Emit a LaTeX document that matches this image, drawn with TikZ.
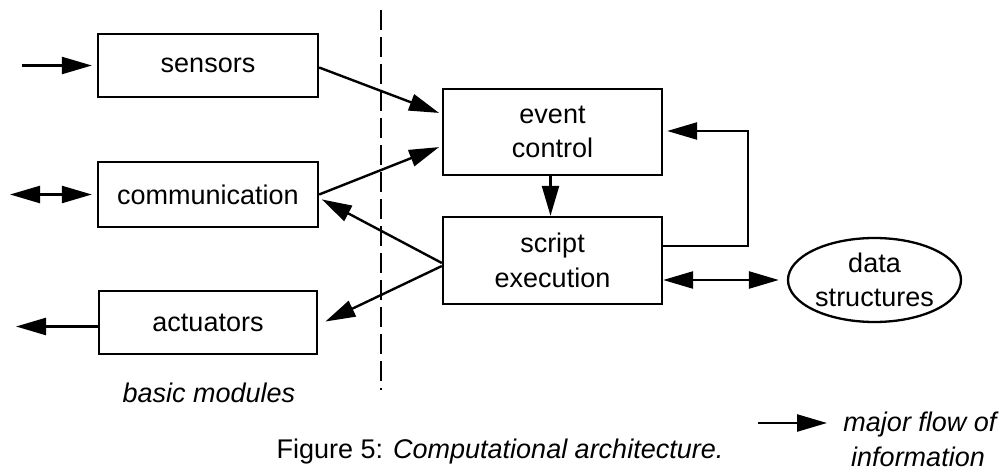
\documentclass[tikz,border=0pt]{standalone}
\usepackage{fontspec}
\setmainfont{Liberation Sans}
\usetikzlibrary{arrows.meta,shapes.geometric}
\begin{document}
\begin{tikzpicture}[x=0.5pt,y=-0.5pt,
  font=\fontsize{13.5}{17.2}\selectfont,
  box/.style={draw,line width=1.15pt,inner sep=0pt,align=center},
  oval/.style={draw,ellipse,line width=1.15pt,inner sep=0pt,align=center,minimum width=86.5pt,minimum height=42pt},
  flow/.style={line width=1.2pt,-{Triangle[length=15pt,width=8.5pt]}},
  flowb/.style={line width=1.2pt,{Triangle[length=15pt,width=8.5pt]}-{Triangle[length=15pt,width=8.5pt]}},
  sep/.style={line width=1pt,dash pattern=on 10pt off 3.5pt},
  lab/.style={font=\fontsize{13.5}{17.2}\selectfont\itshape}]
\useasboundingbox (0,0) rectangle (1000,470);
% boxes
\node[box,minimum width=110pt,minimum height=31.5pt] (sens) at (208,65.5) {sensors};
\node[box,minimum width=110pt,minimum height=32.5pt] (comm) at (208,194.5) {communication};
\node[box,minimum width=109pt,minimum height=31.5pt] (act) at (208,322.5) {actuators};
\node[box,minimum width=109.5pt,minimum height=43pt] (ev) at (552.5,132) {event\\control};
\node[box,minimum width=109.5pt,minimum height=43.5pt] (scr) at (552.5,260.5) {script\\execution};
\node[oval] (data) at (874.5,280) {data\\structures};
% separator
\coordinate (d1) at (381,10);
\coordinate (d2) at (381,390);
\draw[sep] (d1) -- (d2);
% external arrows
\coordinate (sin) at (22,65.5);
\coordinate (cin) at (10,194.5);
\coordinate (aout) at (16,326.5);
\draw[flow,shorten >=2.5pt] (sin) -- (sens.west);
\draw[flowb,shorten >=2.5pt] (cin) -- (comm.west);
\draw[flow] ([yshift=-2pt]act.west) -- (aout);
% internal arrows
\draw[flow,shorten >=1.5pt] ([yshift=-1pt]sens.east) -- ([yshift=9pt]ev.west);
\draw[flow,shorten >=1.5pt] (comm.east) -- ([yshift=-7pt]ev.west);
\draw[flow,shorten >=1.5pt] ([yshift=-1.25pt]scr.west) -- ([yshift=-1.75pt]comm.east);
\draw[flow,shorten >=4pt] ([yshift=-2.75pt]scr.west) -- ([yshift=-1.25pt]act.east);
\draw[flow] ([xshift=-1pt]ev.south) -- ([xshift=-1pt]scr.north);
\coordinate (fb1) at (748,246);
\coordinate (fb2) at (748,131);
\draw[flow,shorten >=2pt] ([yshift=7.25pt]scr.east) -- (fb1) -- (fb2) -- ([yshift=0.5pt]ev.east);
\draw[flowb,shorten >=4pt] (scr.east |- data.west) -- (data.west);
% labels
\node[lab] (bm) at (209,393) {basic modules};
\node (cap) at (500,452) {Figure 5: \textit{Computational architecture.}};
\coordinate (l1) at (758,423);
\coordinate (l2) at (827,423);
\draw[flow] (l1) -- (l2);
\node[lab] (lg1) at (920,425) {major flow of};
\node[lab] (lg2) at (918,457) {information};
\end{tikzpicture}
\end{document}
